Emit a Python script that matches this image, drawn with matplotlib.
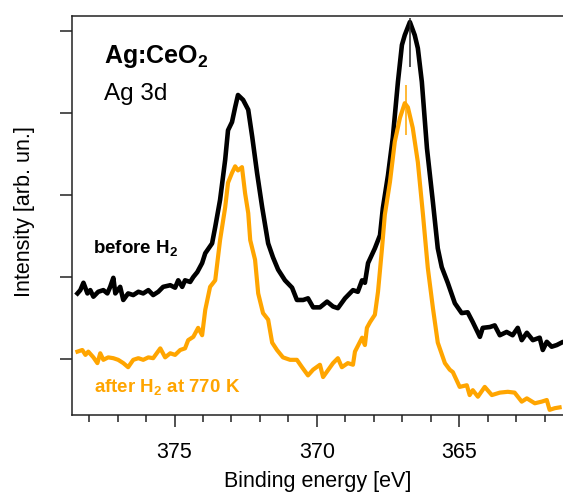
import matplotlib
matplotlib.use("Agg")
import matplotlib.pyplot as plt

plt.rcParams['font.family'] = ['Liberation Sans', 'DejaVu Sans']
plt.rcParams['mathtext.fontset'] = 'custom'
plt.rcParams['mathtext.rm'] = 'Liberation Sans'
plt.rcParams['mathtext.bf'] = 'Liberation Sans:bold'

# Ag 3d spectra, binding energy [eV] vs intensity [arb. un.]
before_e = [378.41, 378.31, 378.20, 378.06, 377.96, 377.85, 377.68, 377.50, 377.36, 377.26,
            377.15, 377.08, 376.91, 376.80, 376.63, 376.45, 376.27, 376.10, 375.92, 375.75,
            375.57, 375.40, 375.15, 374.98, 374.87, 374.73, 374.63, 374.45, 374.34, 374.20,
            374.03, 373.92, 373.68, 373.57, 373.40, 373.22, 373.12, 372.98, 372.87, 372.77,
            372.59, 372.41, 372.27, 372.10, 371.92, 371.71, 371.54, 371.36, 371.12, 370.87,
            370.70, 370.48, 370.31, 370.13, 369.89, 369.64, 369.43, 369.26, 369.01, 368.73,
            368.56, 368.41, 368.31, 368.20, 367.96, 367.78, 367.68, 367.50, 367.33, 367.15,
            367.01, 366.91, 366.73, 366.56, 366.45, 366.31, 366.13, 365.92, 365.75, 365.61,
            365.40, 365.15, 364.91, 364.70, 364.52, 364.27, 364.17, 363.92, 363.75, 363.57,
            363.33, 363.12, 362.94, 362.80, 362.62, 362.41, 362.17, 362.06, 361.92, 361.75,
            361.57, 361.40]
before_i = [0.80, 0.84, 0.93, 0.80, 0.84, 0.76, 0.82, 0.84, 0.80, 0.88,
            0.99, 0.80, 0.88, 0.72, 0.80, 0.78, 0.82, 0.80, 0.84, 0.78,
            0.82, 0.88, 0.90, 0.87, 0.96, 0.88, 0.96, 0.94, 1.00, 1.06,
            1.17, 1.29, 1.41, 1.61, 1.94, 2.43, 2.79, 2.89, 3.07, 3.22,
            3.16, 3.04, 2.71, 2.27, 1.85, 1.41, 1.24, 1.09, 0.96, 0.87,
            0.72, 0.72, 0.74, 0.63, 0.63, 0.70, 0.64, 0.62, 0.74, 0.84,
            0.82, 0.96, 0.93, 1.17, 1.35, 1.51, 1.84, 2.24, 2.70, 3.38,
            3.83, 3.95, 4.11, 3.95, 3.79, 3.38, 2.57, 1.91, 1.35, 1.12,
            0.93, 0.68, 0.56, 0.57, 0.45, 0.27, 0.38, 0.39, 0.41, 0.29,
            0.33, 0.29, 0.38, 0.23, 0.32, 0.23, 0.26, 0.11, 0.21, 0.15,
            0.17, 0.20]

after_e = [378.41, 378.24, 378.13, 378.03, 377.85, 377.71, 377.61, 377.50, 377.33, 377.15,
           376.98, 376.80, 376.63, 376.45, 376.27, 376.10, 375.92, 375.75, 375.50, 375.33,
           375.15, 374.98, 374.80, 374.63, 374.52, 374.34, 374.17, 374.03, 373.92, 373.75,
           373.57, 373.40, 373.22, 373.12, 372.98, 372.87, 372.77, 372.63, 372.52, 372.41,
           372.34, 372.17, 372.06, 371.89, 371.71, 371.57, 371.40, 371.19, 370.94, 370.70,
           370.52, 370.31, 370.13, 369.89, 369.78, 369.43, 369.26, 369.12, 368.91, 368.73,
           368.66, 368.41, 368.31, 368.24, 368.13, 367.96, 367.85, 367.71, 367.61, 367.43,
           367.26, 367.08, 366.91, 366.80, 366.63, 366.45, 366.27, 366.10, 365.92, 365.75,
           365.50, 365.33, 365.22, 364.98, 364.73, 364.63, 364.52, 364.34, 364.10, 363.85,
           363.57, 363.29, 363.05, 362.80, 362.62, 362.34, 362.10, 361.92, 361.82, 361.64,
           361.47]
after_i = [0.09, 0.11, 0.05, 0.09, 0.02, -0.05, 0.07, -0.01, 0.02, 0.01,
           -0.01, -0.05, -0.10, -0.01, 0.01, -0.01, 0.02, 0.01, 0.13, 0.02,
           0.07, 0.05, 0.11, 0.13, 0.23, 0.27, 0.38, 0.29, 0.60, 0.88,
           0.96, 1.45, 1.85, 2.15, 2.27, 2.35, 2.30, 2.34, 2.02, 1.78,
           1.45, 1.21, 0.80, 0.56, 0.48, 0.20, 0.11, 0.02, -0.01, -0.01,
           -0.10, -0.20, -0.13, -0.07, -0.22, -0.05, 0.01, -0.10, -0.05, -0.07,
           0.09, 0.26, 0.17, 0.38, 0.45, 0.54, 0.82, 1.35, 1.76, 2.16,
           2.65, 2.94, 3.12, 3.07, 2.82, 2.40, 1.76, 1.11, 0.62, 0.20,
           -0.05, -0.13, -0.16, -0.34, -0.32, -0.44, -0.38, -0.46, -0.34, -0.44,
           -0.41, -0.40, -0.41, -0.52, -0.48, -0.54, -0.52, -0.50, -0.62, -0.60,
           -0.59]

# peak position markers (energy, lower end, upper end)
before_mark = (366.73, 3.56, 4.16)
after_mark = (366.88, 2.73, 3.34)

orange = '#FFA500'

fig = plt.figure(figsize=(5.63, 4.95), dpi=100)
ax = fig.add_axes([0.128, 0.1616, 0.872, 0.806])

ax.plot(before_e, before_i, color='black', lw=3.3, solid_joinstyle='round')
ax.plot(after_e, after_i, color=orange, lw=3.0, solid_joinstyle='round')
ax.vlines(before_mark[0], before_mark[1], before_mark[2], color='#222222', lw=1.1)
ax.vlines(after_mark[0], after_mark[1], after_mark[2], color=orange, lw=1.1)

ax.set_xlim(378.6, 361.35)
ax.set_ylim(-0.683, 4.183)
ax.set_xticks([375, 370, 365])
ax.set_xticks(range(362, 379), minor=True)
ax.set_yticks([0, 1, 2, 3, 4])
ax.set_yticklabels([])
ax.tick_params(axis='both', which='major', direction='out', length=8.6, width=1.1,
               labelsize=15.5, pad=10.5, color='#222222')
ax.tick_params(axis='x', which='minor', direction='out', length=5, width=1.1, color='#222222')
ax.tick_params(axis='y', which='minor', left=False)
ax.spines['right'].set_visible(False)
for s in ['left', 'top', 'bottom']:
    ax.spines[s].set_linewidth(1.1)
    ax.spines[s].set_color('#222222')

ax.set_xlabel('Binding energy [eV]', fontsize=15.5, labelpad=6)
ax.set_ylabel('Intensity [arb. un.]', fontsize=15.5)
ax.yaxis.set_label_coords(-0.075, 0.51)

ax.text(0.065, 0.882, r'Ag:CeO$_\mathbf{2}$', transform=ax.transAxes, fontsize=18,
        fontweight='bold', va='baseline')
ax.text(0.065, 0.789, 'Ag 3d', transform=ax.transAxes, fontsize=17.5, va='baseline')
ax.text(0.043, 0.404, r'before H$_\mathbf{2}$', transform=ax.transAxes, fontsize=13.5,
        fontweight='bold', va='baseline')
ax.text(0.045, 0.055, r'after H$_\mathbf{2}$ at 770 K', transform=ax.transAxes, fontsize=13.5,
        fontweight='bold', va='baseline', color=orange)

fig.savefig('out.png', dpi=100)
